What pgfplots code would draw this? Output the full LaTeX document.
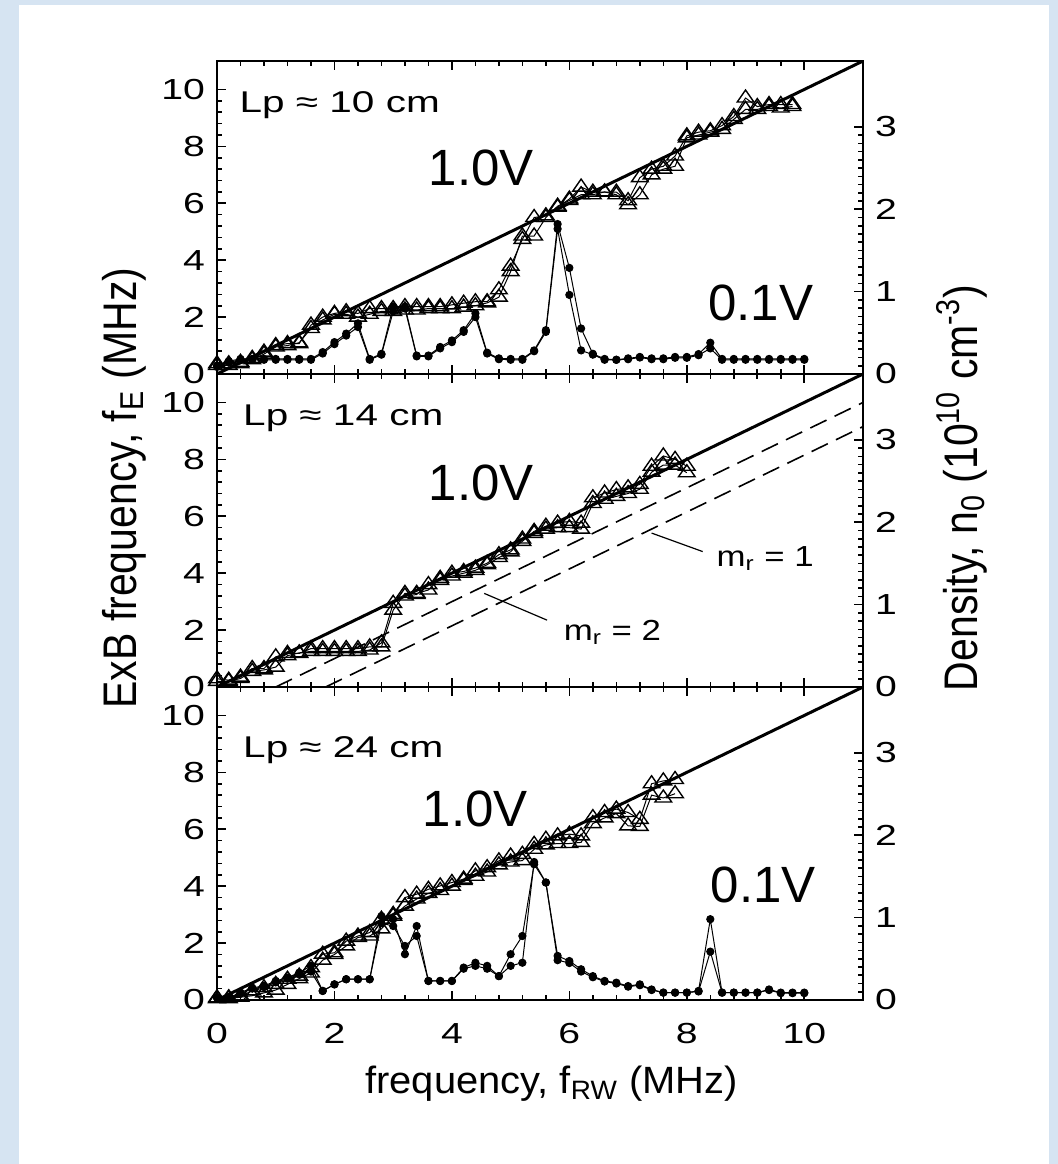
\documentclass[border=0pt]{standalone}
\usepackage{pgfplots}
\pgfplotsset{compat=1.18}
\usepackage{fontspec}
\setmainfont{Liberation Sans}[FakeStretch=1.35]
\newfontfamily\vfont{Liberation Sans}
\newfontfamily\mfont{Liberation Sans}[FakeStretch=1.2]
\newfontfamily\xfont{Liberation Sans}[FakeStretch=1.05]
\newfontfamily\rfont{Liberation Sans}
\definecolor{bgblue}{RGB}{214,228,242}

\tikzset{lab/.style={inner sep=0pt, anchor=base west}}
\pgfplotsset{
  panel/.style={
    scale only axis, width=323pt, height=156.5pt,
    xmin=0, xmax=11, ymin=0, ymax=11,
    xtick={0,2,...,10}, ytick={0,2,...,10},
    minor x tick num=4, minor y tick num=4,
    tick align=inside, xtick pos=both, ytick pos=left,
    major tick length=4.5pt, minor tick length=2.5pt,
    axis line style={line width=1.1pt},
    tick style={black, line width=0.8pt},
    tick label style={font=\fontsize{14.5}{17}\selectfont},
    /pgf/number format/assume math mode=true,
    yticklabel style={xshift=-2.5pt},
    xticklabel style={yshift=-8pt},
  },
  dens/.style={
    scale only axis, width=323pt, height=156.5pt,
    xmin=0, xmax=11, ymin=0, ymax=3.8,
    axis x line=none, axis y line*=right,
    ytick={0,1,2,3}, minor y tick num=9,
    tick align=inside,
    major tick length=4.5pt, minor tick length=2.5pt,
    axis line style={line width=1.1pt, -},
    tick style={black, line width=0.8pt},
    tick label style={font=\fontsize{14.5}{17}\selectfont},
    /pgf/number format/assume math mode=true,
    yticklabel style={xshift=2.5pt},
  },
  tri/.style={black, line width=0.5pt, mark=triangle, mark size=4pt,
    mark options={solid, line width=0.7pt, xscale=1.2}},
  dot/.style={black, line width=0.5pt, mark=*, mark size=1.8pt, mark options={solid}},
  ref/.style={black, line width=1.5pt},
  dsh/.style={black, line width=0.8pt, dash pattern=on 9pt off 4.5pt},
}

\begin{document}
\begin{tikzpicture}
\fill[bgblue] (0,0) rectangle (529pt,-582pt);
\fill[white] (9.5pt,-2.5pt) rectangle (524.5pt,-582pt);

% ---------------- Panel 1 ----------------
\begin{axis}[panel, at={(108.5pt,-30.5pt)}, anchor=north west, xticklabels={}]
\addplot[ref] coordinates {(0,0) (11,11)};
\addplot[tri] table {
x y
0.0 0.30
0.2 0.30
0.4 0.36
0.6 0.50
0.8 0.70
1.0 0.95
1.2 1.00
1.4 1.10
1.6 1.60
1.8 1.90
2.0 2.10
2.2 2.10
2.4 2.00
2.6 2.10
2.8 2.20
3.0 2.20
3.2 2.25
3.4 2.25
3.6 2.30
3.8 2.30
4.0 2.30
4.2 2.35
4.4 2.40
4.6 2.50
4.8 2.70
5.0 3.60
5.2 4.85
5.4 4.85
5.6 5.50
5.8 5.90
6.0 6.10
6.2 6.30
6.4 6.30
6.6 6.40
6.8 6.30
7.0 5.95
7.2 6.30
7.4 7.00
7.6 7.20
7.8 7.30
8.0 8.30
8.2 8.40
8.4 8.50
8.6 8.60
8.8 8.95
9.0 9.30
9.2 9.30
9.4 9.40
9.6 9.35
9.8 9.40
};
\addplot[tri] table {
x y
0.0 0.36
0.2 0.36
0.4 0.41
0.6 0.55
0.8 0.77
1.0 1.00
1.2 1.07
1.4 1.07
1.6 1.72
1.8 2.00
2.0 2.13
2.2 2.19
2.4 2.13
2.6 2.30
2.8 2.30
3.0 2.30
3.2 2.37
3.4 2.37
3.6 2.37
3.8 2.37
4.0 2.43
4.2 2.49
4.4 2.54
4.6 2.54
4.8 2.96
5.0 3.79
5.2 4.73
5.4 5.50
5.6 5.56
5.8 5.86
6.0 6.15
6.2 6.57
6.4 6.39
6.6 6.39
6.8 6.39
7.0 6.09
7.2 6.90
7.4 7.20
7.6 7.30
7.8 7.66
8.0 8.37
8.2 8.50
8.4 8.55
8.6 8.73
8.8 9.05
9.0 9.70
9.2 9.40
9.4 9.47
9.6 9.47
9.8 9.47
};
\addplot[dot] table {
x y
0.0 0.25
0.2 0.40
0.4 0.50
0.6 0.50
0.8 0.50
1.0 0.50
1.2 0.50
1.4 0.50
1.6 0.50
1.8 0.72
2.0 1.05
2.2 1.35
2.4 1.65
2.6 0.50
2.8 0.68
3.0 2.20
3.2 2.30
3.4 0.62
3.6 0.62
3.8 0.90
4.0 1.12
4.2 1.48
4.4 2.00
4.6 0.72
4.8 0.52
5.0 0.50
5.2 0.50
5.4 0.80
5.6 1.48
5.8 5.10
6.0 2.78
6.2 0.83
6.4 0.68
6.6 0.50
6.8 0.50
7.0 0.52
7.2 0.58
7.4 0.52
7.6 0.52
7.8 0.57
8.0 0.57
8.2 0.66
8.4 0.90
8.6 0.50
8.8 0.50
9.0 0.50
9.2 0.50
9.4 0.50
9.6 0.50
9.8 0.50
10.0 0.50
};
\addplot[dot] table {
x y
0.0 0.30
0.2 0.45
0.4 0.53
0.6 0.53
0.8 0.53
1.0 0.53
1.2 0.53
1.4 0.53
1.6 0.53
1.8 0.77
2.0 1.12
2.2 1.42
2.4 1.78
2.6 0.53
2.8 0.71
3.0 2.37
3.2 2.37
3.4 0.65
3.6 0.65
3.8 0.95
4.0 1.18
4.2 1.54
4.4 2.13
4.6 0.75
4.8 0.55
5.0 0.53
5.2 0.53
5.4 0.83
5.6 1.54
5.8 5.27
6.0 3.73
6.2 1.60
6.4 0.71
6.6 0.53
6.8 0.50
7.0 0.55
7.2 0.60
7.4 0.55
7.6 0.55
7.8 0.60
8.0 0.60
8.2 0.70
8.4 1.10
8.6 0.53
8.8 0.53
9.0 0.53
9.2 0.53
9.4 0.53
9.6 0.53
9.8 0.53
10.0 0.53
};
\node[lab] at (axis cs:0.38,9.18) {\fontsize{15}{18}\selectfont Lp ≈ 10 cm};
\node[lab] at (axis cs:3.6,6.63) {\vfont\fontsize{25.5}{30}\selectfont 1.0V};
\node[lab] at (axis cs:8.36,1.87) {\vfont\fontsize{25.5}{30}\selectfont 0.1V};
\end{axis}
\begin{axis}[dens, at={(108.5pt,-30.5pt)}, anchor=north west]
\addplot[draw=none] coordinates {(0,0)};
\end{axis}

% ---------------- Panel 2 ----------------
\begin{axis}[panel, at={(108.5pt,-187pt)}, anchor=north west, xticklabels={}]
\addplot[ref] coordinates {(0,0) (11,11)};
\addplot[dsh] coordinates {(1.0,0) (11,10)};
\addplot[dsh] coordinates {(1.85,0) (11,9.15)};
\addplot[tri] table {
x y
0.0 0.20
0.2 0.20
0.4 0.30
0.6 0.55
0.8 0.60
1.0 0.70
1.2 1.10
1.4 1.20
1.6 1.25
1.8 1.25
2.0 1.25
2.2 1.25
2.4 1.25
2.6 1.30
2.8 1.55
3.0 2.94
3.2 3.20
3.4 3.25
3.6 3.60
3.8 3.75
4.0 3.90
4.2 4.00
4.4 4.10
4.6 4.30
4.8 4.55
5.0 4.75
5.2 5.20
5.4 5.40
5.6 5.55
5.8 5.60
6.0 5.60
6.2 5.55
6.4 6.45
6.6 6.60
6.8 6.70
7.0 6.80
7.2 6.95
7.4 7.55
7.6 7.80
7.8 7.80
8.0 7.53
};
\addplot[tri] table {
x y
0.0 0.29
0.2 0.24
0.4 0.35
0.6 0.65
0.8 0.65
1.0 1.06
1.2 1.18
1.4 1.18
1.6 1.35
1.8 1.35
2.0 1.35
2.2 1.35
2.4 1.35
2.6 1.41
2.8 1.41
3.0 2.70
3.2 3.29
3.4 3.29
3.6 3.41
3.8 3.82
4.0 4.00
4.2 4.06
4.4 4.18
4.6 4.35
4.8 4.65
5.0 4.82
5.2 5.12
5.4 5.47
5.6 5.65
5.8 5.76
6.0 5.82
6.2 5.76
6.4 6.65
6.6 6.82
6.8 6.94
7.0 7.00
7.2 7.12
7.4 7.76
7.6 8.12
7.8 8.00
8.0 7.76
};
\draw[black, line width=0.6pt] (axis cs:7.4,5.41) -- (axis cs:8.27,4.76);
\draw[black, line width=0.6pt] (axis cs:4.55,3.29) -- (axis cs:5.62,2.35);
\node[lab] at (axis cs:0.44,9.2) {\fontsize{15}{18}\selectfont Lp ≈ 14 cm};
\node[lab] at (axis cs:3.6,6.54) {\vfont\fontsize{25.5}{30}\selectfont 1.0V};
\node[lab] at (axis cs:8.5,4.24) {\mfont\fontsize{14.5}{17}\selectfont m\textsubscript{r} = 1};
\node[lab] at (axis cs:5.9,1.65) {\mfont\fontsize{14.5}{17}\selectfont m\textsubscript{r} = 2};
\end{axis}
\begin{axis}[dens, at={(108.5pt,-187pt)}, anchor=north west]
\addplot[draw=none] coordinates {(0,0)};
\end{axis}

% ---------------- Panel 3 ----------------
\begin{axis}[panel, at={(108.5pt,-343.5pt)}, anchor=north west]
\addplot[ref] coordinates {(0,0) (11,11)};
\addplot[tri] table {
x y
0.0 0.05
0.2 0.05
0.4 0.10
0.6 0.15
0.8 0.25
1.0 0.35
1.2 0.55
1.4 0.75
1.6 0.95
1.8 1.40
2.0 1.60
2.2 1.90
2.4 2.20
2.6 2.25
2.8 2.50
3.0 2.95
3.2 3.30
3.4 3.55
3.6 3.75
3.8 3.85
4.0 4.00
4.2 4.20
4.4 4.35
4.6 4.50
4.8 4.75
5.0 4.85
5.2 4.90
5.4 5.30
5.6 5.45
5.8 5.50
6.0 5.50
6.2 5.54
6.4 6.20
6.6 6.40
6.8 6.55
7.0 6.12
7.2 6.10
7.4 7.20
7.6 7.10
7.8 7.25
};
\addplot[tri] table {
x y
0.0 0.08
0.2 0.08
0.4 0.14
0.6 0.32
0.8 0.43
1.0 0.55
1.2 0.73
1.4 0.84
1.6 1.14
1.8 1.61
2.0 1.66
2.2 2.07
2.4 2.25
2.6 2.37
2.8 2.84
3.0 3.01
3.2 3.60
3.4 3.72
3.6 3.89
3.8 4.01
4.0 4.13
4.2 4.25
4.4 4.54
4.6 4.65
4.8 4.89
5.0 5.06
5.2 5.12
5.4 5.47
5.6 5.65
5.8 5.77
6.0 5.83
6.2 5.77
6.4 6.41
6.6 6.59
6.8 6.71
7.0 6.59
7.2 6.35
7.4 7.60
7.6 7.70
7.8 7.75
};
\addplot[dot] table {
x y
0.0 0.08
0.2 0.08
0.4 0.22
0.6 0.40
0.8 0.45
1.0 0.62
1.2 0.75
1.4 0.90
1.6 1.00
1.8 0.32
2.0 0.55
2.2 0.73
2.4 0.73
2.6 0.73
2.8 2.70
3.0 2.60
3.2 1.90
3.4 2.25
3.6 0.67
3.8 0.67
4.0 0.67
4.2 1.10
4.4 1.20
4.6 1.10
4.8 0.84
5.0 1.20
5.2 1.31
5.4 4.85
5.6 4.13
5.8 1.40
6.0 1.30
6.2 1.00
6.4 0.80
6.6 0.65
6.8 0.58
7.0 0.47
7.2 0.52
7.4 0.35
7.6 0.26
7.8 0.26
8.0 0.26
8.2 0.30
8.4 1.70
8.6 0.26
8.8 0.26
9.0 0.26
9.2 0.26
9.4 0.35
9.6 0.24
9.8 0.24
10.0 0.24
};
\addplot[dot] table {
x y
0.0 0.08
0.2 0.08
0.4 0.26
0.6 0.43
0.8 0.49
1.0 0.67
1.2 0.79
1.4 0.96
1.6 1.20
1.8 0.32
2.0 0.55
2.2 0.73
2.4 0.73
2.6 0.73
2.8 2.95
3.0 2.84
3.2 1.61
3.4 2.60
3.6 0.67
3.8 0.67
4.0 0.67
4.2 1.14
4.4 1.31
4.6 1.20
4.8 0.84
5.0 1.61
5.2 2.25
5.4 4.77
5.6 4.13
5.8 1.55
6.0 1.37
6.2 1.08
6.4 0.84
6.6 0.67
6.8 0.61
7.0 0.49
7.2 0.55
7.4 0.37
7.6 0.26
7.8 0.26
8.0 0.26
8.2 0.32
8.4 2.84
8.6 0.26
8.8 0.26
9.0 0.26
9.2 0.26
9.4 0.37
9.6 0.26
9.8 0.26
10.0 0.26
};
\node[lab] at (axis cs:0.44,8.53) {\fontsize{15}{18}\selectfont Lp ≈ 24 cm};
\node[lab] at (axis cs:3.5,6.1) {\vfont\fontsize{25.5}{30}\selectfont 1.0V};
\node[lab] at (axis cs:8.4,3.44) {\vfont\fontsize{25.5}{30}\selectfont 0.1V};
\end{axis}
\begin{axis}[dens, at={(108.5pt,-343.5pt)}, anchor=north west]
\addplot[draw=none] coordinates {(0,0)};
\end{axis}

% ---------------- Axis titles ----------------
\node[rotate=90, anchor=base, inner sep=0pt] at (68pt,-244pt)
  {\rfont\fontsize{20.5}{24}\selectfont\scalebox{1}[1.15]{ExB frequency, f\textsubscript{E} (MHz)}};
\node[rotate=90, anchor=base, inner sep=0pt] at (488.5pt,-244pt)
  {\rfont\fontsize{20.5}{24}\selectfont\scalebox{1}[1.15]{Density, n\textsubscript{0} (10\textsuperscript{10} cm\textsuperscript{-3})}};
\node[anchor=base, inner sep=0pt] at (275.75pt,-546.5pt)
  {\xfont\fontsize{19}{22}\selectfont frequency, f\textsubscript{RW} (MHz)};

\pgfresetboundingbox
\useasboundingbox (0,0) rectangle (529pt,-582pt);
\end{tikzpicture}
\end{document}
